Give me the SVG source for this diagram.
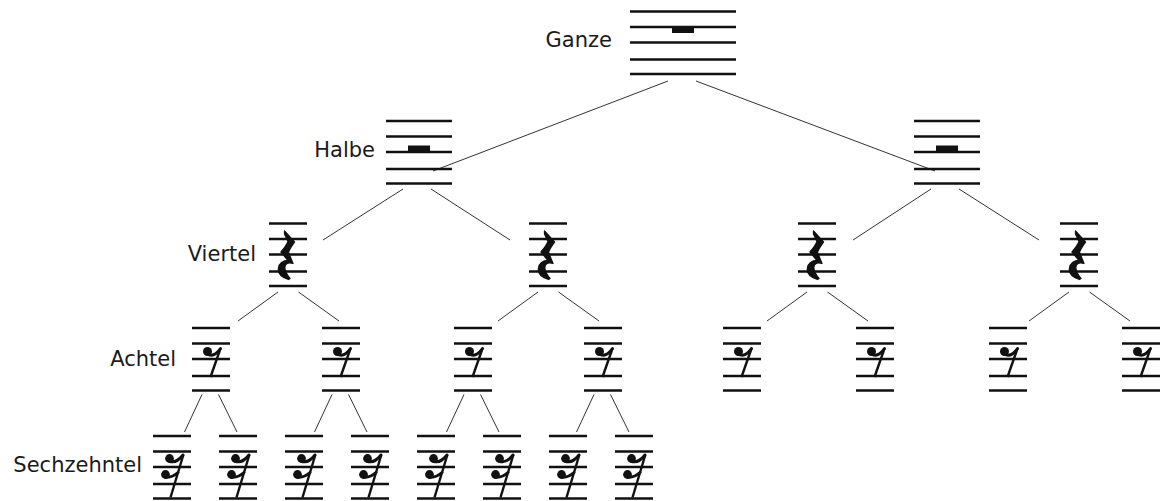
<svg xmlns="http://www.w3.org/2000/svg" xmlns:xlink="http://www.w3.org/1999/xlink" width="1161" height="501" viewBox="0 0 1161 501">
<style>
.st{fill:none;stroke:#111;stroke-width:2.4}
.conn line{stroke:#333;stroke-width:1;fill:none}
.lbl{font-family:"DejaVu Sans",sans-serif;font-size:21px;fill:#1a1a1a;text-anchor:end}
.gl{fill:#111}
.q{fill:#111;stroke:#111;stroke-width:1.3;stroke-linejoin:round}
.sk{fill:none;stroke:#111;stroke-width:2.4;stroke-linecap:butt}
.fl{fill:none;stroke:#111;stroke-width:3;stroke-linecap:round}
</style>
<defs>
<path id="s106" class="st" d="M0,0H106M0,15.5H106M0,31H106M0,48H106M0,62.5H106"/>
<path id="s66" class="st" d="M0,0H66M0,15.5H66M0,31H66M0,48H66M0,62.5H66"/>
<path id="s38" class="st" d="M0,0H38M0,15.5H38M0,31H38M0,48H38M0,62.5H38"/>
<path id="r4" class="q" d="M-3.5,-23.5 L6.5,-12.5 C4,-9 1,-5 0.5,-2 L5,9 C0,7 -4,9.5 -3,14.5 C-2.5,18 0,21.5 2,24 L0.5,25 C-5.5,23 -10.5,19 -9.5,13.5 C-9,9 -5,6 0,6 L-7,-2.5 C-4,-6 -1,-10 0,-13 L-3.5,-20.5 Z"/>
<g id="r8">
<circle class="gl" cx="-3.5" cy="-7.5" r="4.5"/>
<path class="fl" d="M-4,-5 Q3,-1 9.5,-10.5"/>
<path class="sk" d="M9.5,-10.5 L-0.5,18"/>
</g>
<g id="r16">
<circle class="gl" cx="-2.5" cy="-8.5" r="4.4"/>
<path class="fl" d="M-3,-6 Q4,-3 11,-12"/>
<circle class="gl" cx="-6.5" cy="7.5" r="4.4"/>
<path class="fl" d="M-7,10 Q0,11 6,5.5"/>
<path class="sk" d="M11.3,-12 L-1.5,30.5"/>
</g>
</defs>

<g id="connectors" class="conn">
<line x1="668" y1="81" x2="433" y2="171"/>
<line x1="696" y1="81" x2="935" y2="171"/>
<line x1="403" y1="189" x2="323" y2="240"/>
<line x1="431" y1="189" x2="510" y2="240"/>
<line x1="931" y1="189" x2="853" y2="240"/>
<line x1="959" y1="189" x2="1039" y2="240"/>
<line x1="278" y1="292" x2="238" y2="321"/>
<line x1="298.5" y1="292" x2="339" y2="321"/>
<line x1="538" y1="292" x2="498" y2="321"/>
<line x1="558.5" y1="292" x2="599" y2="321"/>
<line x1="807" y1="292" x2="767" y2="321"/>
<line x1="827.5" y1="292" x2="868" y2="321"/>
<line x1="1069" y1="292" x2="1029" y2="321"/>
<line x1="1089.5" y1="292" x2="1130" y2="321"/>
<line x1="202" y1="394.5" x2="184.5" y2="432"/>
<line x1="218.5" y1="394.5" x2="237" y2="432"/>
<line x1="332" y1="394.5" x2="314.5" y2="432"/>
<line x1="348.5" y1="394.5" x2="367" y2="432"/>
<line x1="464" y1="394.5" x2="446.5" y2="432"/>
<line x1="480.5" y1="394.5" x2="499" y2="432"/>
<line x1="594" y1="394.5" x2="576.5" y2="432"/>
<line x1="610.5" y1="394.5" x2="629" y2="432"/>
</g>

<g id="labels">
<text class="lbl" x="612" y="47">Ganze</text>
<text class="lbl" x="375" y="157">Halbe</text>
<text class="lbl" x="256" y="261">Viertel</text>
<text class="lbl" x="176" y="366">Achtel</text>
<text class="lbl" x="142" y="472">Sechzehntel</text>
</g>

<g id="ganze" transform="translate(630,11.5)"><use href="#s106"/><rect class="gl" x="42" y="15.5" width="22" height="6"/></g>

<g id="halbe-1" transform="translate(386,121)"><use href="#s66"/><rect class="gl" x="22" y="24.5" width="22" height="6.5"/></g>
<g id="halbe-2" transform="translate(914,121)"><use href="#s66"/><rect class="gl" x="22" y="24.5" width="22" height="6.5"/></g>

<g id="viertel-1" transform="translate(269,223.5)"><use href="#s38"/><use href="#r4" x="19" y="31"/></g>
<g id="viertel-2" transform="translate(529,223.5)"><use href="#s38"/><use href="#r4" x="19" y="31"/></g>
<g id="viertel-3" transform="translate(798,223.5)"><use href="#s38"/><use href="#r4" x="19" y="31"/></g>
<g id="viertel-4" transform="translate(1060,223.5)"><use href="#s38"/><use href="#r4" x="19" y="31"/></g>

<g id="achtel-1" transform="translate(192,328)"><use href="#s38"/><use href="#r8" x="19" y="31"/></g>
<g id="achtel-2" transform="translate(322,328)"><use href="#s38"/><use href="#r8" x="19" y="31"/></g>
<g id="achtel-3" transform="translate(454,328)"><use href="#s38"/><use href="#r8" x="19" y="31"/></g>
<g id="achtel-4" transform="translate(584,328)"><use href="#s38"/><use href="#r8" x="19" y="31"/></g>
<g id="achtel-5" transform="translate(723,328)"><use href="#s38"/><use href="#r8" x="19" y="31"/></g>
<g id="achtel-6" transform="translate(856,328)"><use href="#s38"/><use href="#r8" x="19" y="31"/></g>
<g id="achtel-7" transform="translate(989,328)"><use href="#s38"/><use href="#r8" x="19" y="31"/></g>
<g id="achtel-8" transform="translate(1122,328)"><use href="#s38"/><use href="#r8" x="19" y="31"/></g>

<g id="sechzehntel-1" transform="translate(153,436)"><use href="#s38"/><use href="#r16" x="19" y="31"/></g>
<g id="sechzehntel-2" transform="translate(219,436)"><use href="#s38"/><use href="#r16" x="19" y="31"/></g>
<g id="sechzehntel-3" transform="translate(285,436)"><use href="#s38"/><use href="#r16" x="19" y="31"/></g>
<g id="sechzehntel-4" transform="translate(351,436)"><use href="#s38"/><use href="#r16" x="19" y="31"/></g>
<g id="sechzehntel-5" transform="translate(417,436)"><use href="#s38"/><use href="#r16" x="19" y="31"/></g>
<g id="sechzehntel-6" transform="translate(483,436)"><use href="#s38"/><use href="#r16" x="19" y="31"/></g>
<g id="sechzehntel-7" transform="translate(549,436)"><use href="#s38"/><use href="#r16" x="19" y="31"/></g>
<g id="sechzehntel-8" transform="translate(615,436)"><use href="#s38"/><use href="#r16" x="19" y="31"/></g>
</svg>
